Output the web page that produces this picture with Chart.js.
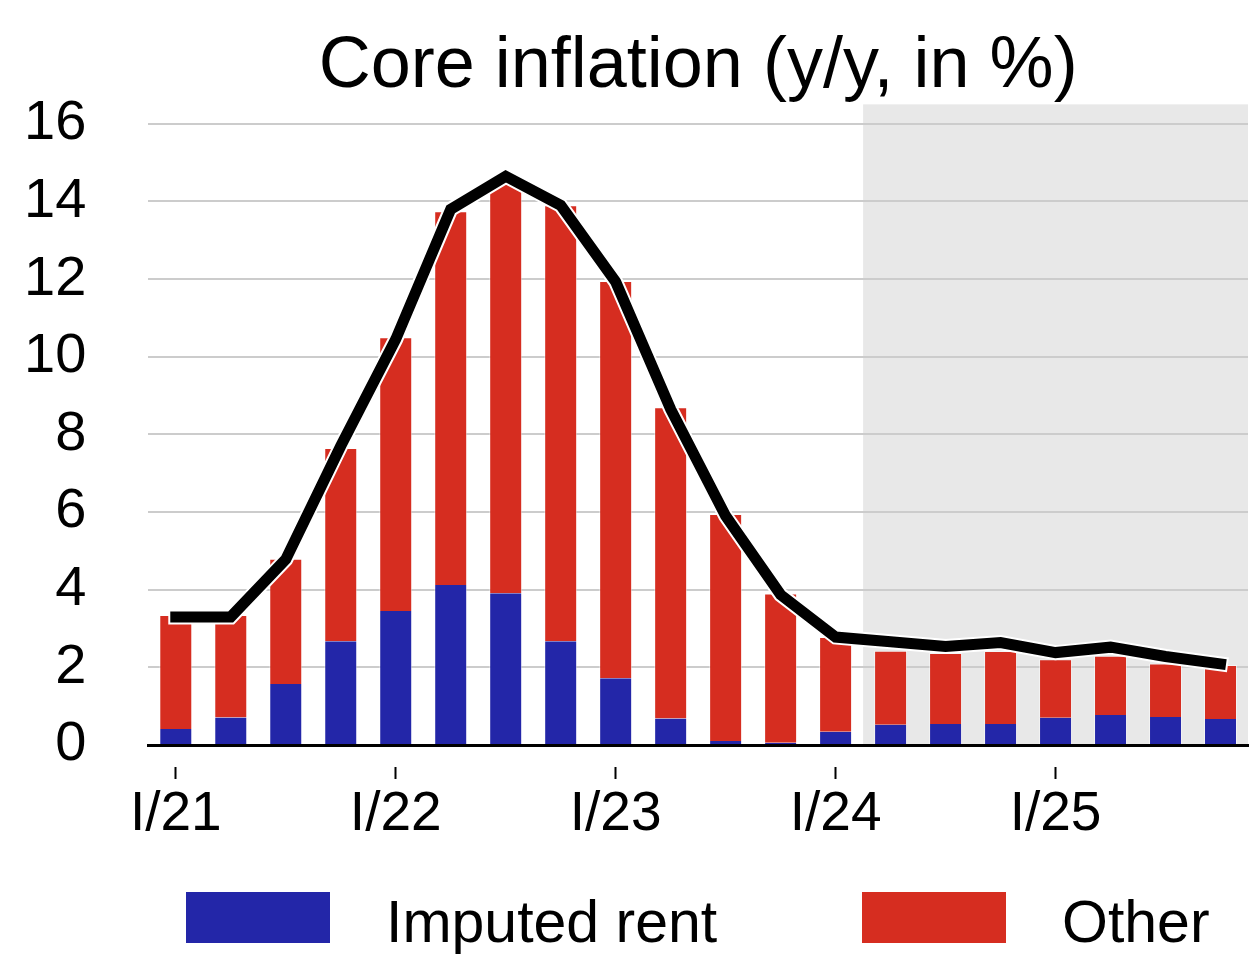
<!DOCTYPE html>
<html>
<head>
<meta charset="utf-8">
<script src="https://cdn.jsdelivr.net/npm/chart.js@4/dist/chart.umd.min.js"></script>
<style>
  body { margin: 0; background: #fff; }
  .wrap { position: relative; width: 1254px; height: 967px; }
  .box { position: absolute; top: 892px; width: 144px; height: 51px; }
  .lbl { position: absolute; top: 893px; font: 59px 'Liberation Sans', Arial, sans-serif; line-height: 1; color: #000; white-space: nowrap; }
</style>
</head>
<body>
<div class="wrap">
  <canvas id="core" width="1254" height="967"></canvas>
  <div class="box" style="left:186px; background:#2326a8;"></div>
  <div class="lbl" style="left:386px;">Imputed rent</div>
  <div class="box" style="left:862px; background:#d62d20;"></div>
  <div class="lbl" style="left:1062px;">Other</div>
</div>
<script>
const quarters = [
  'I/21', 'II/21', 'III/21', 'IV/21',
  'I/22', 'II/22', 'III/22', 'IV/22',
  'I/23', 'II/23', 'III/23', 'IV/23',
  'I/24', 'II/24', 'III/24', 'IV/24',
  'I/25', 'II/25', 'III/25', 'IV/25',
];
const imputedRent = [0.41, 0.71, 1.57, 2.67, 3.45, 4.12, 3.91, 2.67, 1.72, 0.68,
  0.10, 0.06, 0.34, 0.52, 0.54, 0.54, 0.70, 0.77, 0.72, 0.67];
const other = [2.94, 2.64, 3.23, 4.98, 7.05, 9.63, 10.74, 11.23, 10.23, 8.02,
  5.85, 3.84, 2.44, 1.91, 1.83, 1.88, 1.51, 1.53, 1.38, 1.39];
const coreInflation = [3.30, 3.30, 4.78, 7.70, 10.45, 13.80, 14.65, 13.90, 11.93, 8.65,
  5.90, 3.87, 2.78, 2.66, 2.54, 2.64, 2.38, 2.52, 2.28, 2.09];
const yTickValues = [0, 2, 4, 6, 8, 10, 12, 14, 16];
const forecastFrom = 'II/24';

const FONT = "'Liberation Sans', Arial, sans-serif";
const isYearStart = (i) => quarters[i] && quarters[i].startsWith('I/');

// grey band behind the forecast quarters
const forecastShade = {
  id: 'forecastShade',
  beforeDraw(chart) {
    const { ctx, chartArea, scales } = chart;
    const i = quarters.indexOf(forecastFrom);
    const left = (scales.x.getPixelForValue(i - 1) + scales.x.getPixelForValue(i)) / 2;
    ctx.save();
    ctx.fillStyle = '#e8e8e8';
    ctx.fillRect(left, chartArea.top, chartArea.right - left, chartArea.bottom - chartArea.top);
    ctx.restore();
  },
};

new Chart(document.getElementById('core').getContext('2d'), {
  type: 'bar',
  data: {
    labels: quarters,
    datasets: [
      {
        type: 'line',
        data: coreInflation,
        stack: 'line',
        order: 0,
        borderColor: '#000',
        borderWidth: 11,
        borderCapStyle: 'square',
        borderJoinStyle: 'miter',
        pointRadius: 0,
        tension: 0,
      },
      {
        type: 'line',
        data: coreInflation, // white halo under the black line
        stack: 'halo',
        order: 1,
        borderColor: '#fff',
        borderWidth: 15,
        borderCapStyle: 'square',
        borderJoinStyle: 'miter',
        pointRadius: 0,
        tension: 0,
      },
      {
        label: 'Imputed rent',
        data: imputedRent,
        stack: 'bars',
        order: 2,
        backgroundColor: '#2326a8',
        borderColor: 'rgba(255,255,255,0.5)',
        borderWidth: { left: 1, right: 1, top: 0, bottom: 0 },
        borderSkipped: false,
      },
      {
        label: 'Other',
        data: other,
        stack: 'bars',
        order: 3,
        backgroundColor: '#d62d20',
        borderColor: 'rgba(255,255,255,0.5)',
        borderWidth: { left: 1, right: 1, top: 1, bottom: 0 },
        borderSkipped: false,
      },
    ],
  },
  options: {
    responsive: false,
    animation: false,
    barPercentage: 0.6,
    categoryPercentage: 1.0,
    layout: {
      padding: { top: 0, left: 21, right: 6, bottom: 116 },
    },
    plugins: {
      legend: { display: false },
      tooltip: { enabled: false },
      title: {
        display: true,
        text: 'Core inflation (y/y, in %)',
        color: '#000',
        fullSize: false,
        font: { family: FONT, size: 72, weight: 'normal', lineHeight: 1.033 },
        padding: { top: 30, bottom: 0 },
      },
    },
    scales: {
      x: {
        stacked: true,
        grid: {
          offset: false,
          drawOnChartArea: false,
          tickLength: 34,
          tickWidth: 2,
          tickColor: (ctx) => (isYearStart(ctx.index) ? '#000' : 'rgba(0,0,0,0)'),
          tickBorderDash: [0, 20, 14, 100], // tick sits below the axis with a gap
        },
        border: { display: true, color: '#000', width: 3 },
        ticks: {
          autoSkip: false,
          maxRotation: 0,
          padding: 3,
          color: '#000',
          font: { family: FONT, size: 55 },
          callback: (val, i) => (isYearStart(i) ? quarters[i] : ''),
        },
      },
      y: {
        stacked: true,
        min: 0,
        max: 16.5,
        afterBuildTicks: (scale) => {
          scale.ticks = yTickValues.map((v) => ({ value: v }));
        },
        grid: {
          drawTicks: true,
          tickLength: 59,
          tickColor: 'rgba(0,0,0,0)',
          lineWidth: 2,
          color: (ctx) => (ctx.tick && ctx.tick.value === 0 ? 'rgba(0,0,0,0)' : '#cccccc'),
        },
        border: { display: false },
        ticks: {
          padding: 3,
          color: '#000',
          font: { family: FONT, size: 56 },
        },
      },
    },
  },
  plugins: [forecastShade],
});
</script>
</body>
</html>
